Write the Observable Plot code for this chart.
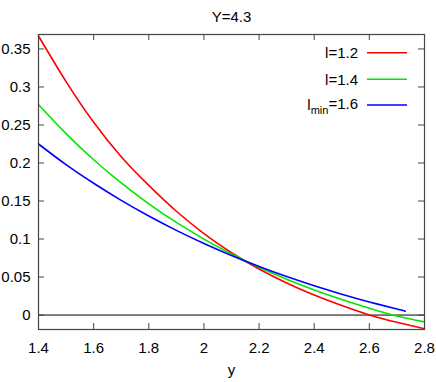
<!DOCTYPE html>
<html>
<head>
<meta charset="utf-8">
<script src="https://cdn.jsdelivr.net/npm/d3@7"></script>
<script src="https://cdn.jsdelivr.net/npm/@observablehq/plot@0.6"></script>
<style>
  html, body { margin: 0; padding: 0; background: #fff; }
  #chart svg { display: block; }
</style>
</head>
<body>
<div id="chart"></div>
<script>
// ---- data ----
const title = "Y=4.3";
const xLabel = "y";
const xValues = [1.4, 1.5, 1.6, 1.7, 1.8, 1.9, 2.0, 2.1, 2.2, 2.3, 2.4, 2.5, 2.6, 2.7, 2.8];
const l12 = [0.367, 0.307, 0.2535, 0.2083, 0.1705, 0.1365, 0.1072, 0.0820, 0.0606, 0.0422, 0.0263, 0.0125, 0.0002, -0.0095, -0.018];
const l14 = [0.277, 0.2386, 0.2043, 0.1737, 0.1463, 0.1218, 0.0999, 0.0803, 0.0628, 0.0471, 0.0331, 0.0206, 0.0090, -0.0012, -0.009];
const lmin16X = [1.4, 1.5, 1.6, 1.7, 1.8, 1.9, 2.0, 2.1, 2.2, 2.3, 2.4, 2.5, 2.6, 2.7, 2.73];
const lmin16 = [0.225, 0.1978, 0.1733, 0.1508, 0.1303, 0.1114, 0.0942, 0.0784, 0.0639, 0.0506, 0.0385, 0.0274, 0.0172, 0.0079, 0.005];
const seriesNames = ["l=1.2", "l=1.4", "lmin=1.6"];
const seriesColors = ["#ff0000", "#00e600", "#0000ff"];
const xTicks = [1.4, 1.6, 1.8, 2.0, 2.2, 2.4, 2.6, 2.8];
const yTicks = [0, 0.05, 0.1, 0.15, 0.2, 0.25, 0.3, 0.35];

// ---- build table ----
const rows = [];
xValues.forEach((x, i) => rows.push({x, v: l12[i], s: seriesNames[0]}));
xValues.forEach((x, i) => rows.push({x, v: l14[i], s: seriesNames[1]}));
lmin16X.forEach((x, i) => rows.push({x, v: lmin16[i], s: seriesNames[2]}));

const W = 436, H = 382;
const mL = 38, mR = 12, mT = 34, mB = 53;
const innerW = W - mL - mR, innerH = H - mT - mB;
const tickLen = 6;
const frameColor = "#444";
const font = "'Liberation Sans', Arial, Helvetica, sans-serif";

const plot = Plot.plot({
  width: W,
  height: H,
  marginLeft: mL,
  marginRight: mR,
  marginTop: mT,
  marginBottom: mB,
  style: {fontFamily: font, fontSize: "15px", color: "#000", background: "#fff"},
  x: {domain: [1.4, 2.8]},
  y: {domain: [-0.019, 0.369]},
  color: {domain: seriesNames, range: seriesColors},
  marks: [
    Plot.ruleY([0], {stroke: "#000", strokeWidth: 1}),
    Plot.line(rows, {x: "x", y: "v", z: "s", stroke: "s", strokeWidth: 1.6, curve: "natural"}),
    Plot.frame({stroke: frameColor, strokeWidth: 1.2}),
    // inward ticks on all four sides
    Plot.tickY(yTicks, {y: d => d, stroke: frameColor, insetRight: innerW - tickLen}),
    Plot.tickY(yTicks, {y: d => d, stroke: frameColor, insetLeft: innerW - tickLen}),
    Plot.tickX(xTicks, {x: d => d, stroke: frameColor, insetTop: innerH - tickLen}),
    Plot.tickX(xTicks, {x: d => d, stroke: frameColor, insetBottom: innerH - tickLen}),
    Plot.axisY(yTicks, {anchor: "left", tickSize: 0, tickPadding: 8, label: null, tickFormat: d => d3.format("~g")(d), fontSize: 15}),
    Plot.axisX(xTicks, {anchor: "bottom", tickSize: 0, tickPadding: 13, label: null, tickFormat: d => d3.format("~g")(d), fontSize: 15}),
    Plot.text([title], {text: d => d, frameAnchor: "top", dy: -23, fontSize: 15}),
    Plot.text([xLabel], {text: d => d, frameAnchor: "bottom", dy: 45, fontSize: 15})
  ]
});

document.getElementById("chart").appendChild(plot);

// ---- legend (top-right, inside the frame) ----
const svg = d3.select(plot);
const leg = svg.append("g")
  .attr("font-family", font)
  .attr("font-size", 15);
const legTextRight = 358, legLine0 = 367, legLine1 = 407;
const legRows = [52.7, 79.3, 105];
seriesNames.forEach((name, i) => {
  const y = legRows[i];
  const t = leg.append("text")
    .attr("x", legTextRight)
    .attr("y", y)
    .attr("dy", "0.35em")
    .attr("text-anchor", "end")
    .attr("fill", "#000");
  if (name.startsWith("lmin")) {
    t.append("tspan").text("l");
    t.append("tspan").attr("font-size", 11).attr("dy", "0.3em").text("min");
    t.append("tspan").attr("dy", "-0.3em").text(name.slice(4));
  } else {
    t.text(name);
  }
  leg.append("line")
    .attr("x1", legLine0).attr("x2", legLine1)
    .attr("y1", y).attr("y2", y)
    .attr("stroke", seriesColors[i])
    .attr("stroke-width", 1.6);
});
</script>
</body>
</html>
